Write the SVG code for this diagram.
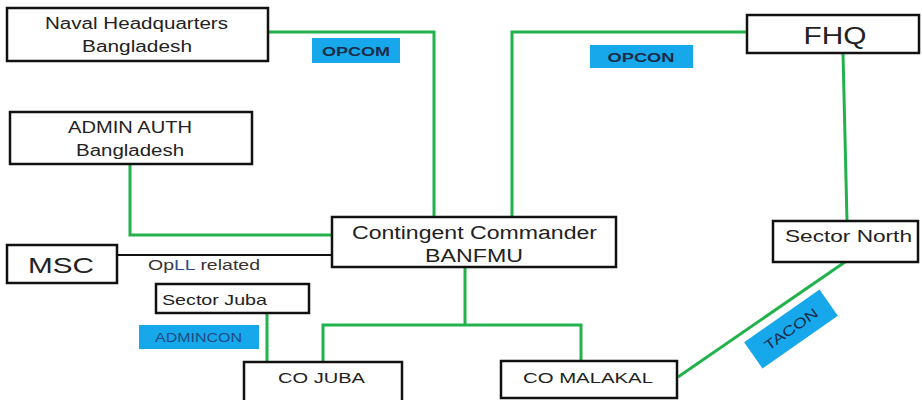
<svg xmlns="http://www.w3.org/2000/svg" width="922" height="400" viewBox="0 0 922 400">
<style>
.box{fill:#fff;stroke:#111;stroke-width:2.5}
.g{fill:none;stroke:#22b24c;stroke-width:3}
.t{font-family:"Liberation Sans",Arial,sans-serif;fill:#222}
.lbl{fill:#16a8ea}
.lt{font-family:"Liberation Sans",Arial,sans-serif;fill:#1b2b4a;font-weight:bold}
</style>
<rect width="922" height="400" fill="#fff"/>
<g id="connectors">
<polyline class="g" points="268,32 434,32 434,217"/>
<polyline class="g" points="130,164 130,235 332,235"/>
<polyline class="g" points="512,217 512,32 747,32"/>
<line class="g" x1="843" y1="53" x2="847" y2="221"/>
<line class="g" x1="465" y1="267" x2="465" y2="325"/>
<polyline class="g" points="323,362 323,325 581,325 581,361"/>
<line class="g" x1="267" y1="313" x2="267" y2="362" stroke-width="2.5"/>
<line class="g" x1="678" y1="377" x2="845" y2="262"/>
<line x1="117" y1="255" x2="332" y2="255" stroke="#111" stroke-width="2"/>
</g>
<g id="opcom">
<rect class="lbl" x="312" y="38" width="88" height="25"/>
<text class="lt" x="356" y="56" font-size="12" text-anchor="middle" textLength="68" lengthAdjust="spacingAndGlyphs">OPCOM</text>
</g>
<g id="opcon">
<rect class="lbl" x="590" y="45" width="103" height="23"/>
<text class="lt" x="641" y="62" font-size="12" text-anchor="middle" textLength="67" lengthAdjust="spacingAndGlyphs">OPCON</text>
</g>
<g id="admincon">
<rect class="lbl" x="139" y="325" width="120" height="24"/>
<text class="t" x="198.5" y="342" font-size="12" text-anchor="middle" style="fill:#1f4a86" textLength="87" lengthAdjust="spacingAndGlyphs">ADMINCON</text>
</g>
<g id="tacon" transform="translate(791,329) rotate(-35)">
<rect class="lbl" x="-46" y="-16" width="92" height="32"/>
<text class="t" x="0" y="5" font-size="14" text-anchor="middle" style="fill:#1b2b4a" textLength="62" lengthAdjust="spacingAndGlyphs">TACON</text>
</g>
<g id="naval">
<rect class="box" x="7" y="8" width="261" height="53"/>
<text class="t" x="136.5" y="29" font-size="16" text-anchor="middle" textLength="183" lengthAdjust="spacingAndGlyphs">Naval Headquarters</text>
<text class="t" x="137" y="52" font-size="16" text-anchor="middle" textLength="110" lengthAdjust="spacingAndGlyphs">Bangladesh</text>
</g>
<g id="admin">
<rect class="box" x="10" y="112" width="242" height="52"/>
<text class="t" x="130" y="133" font-size="16" text-anchor="middle" textLength="124" lengthAdjust="spacingAndGlyphs">ADMIN AUTH</text>
<text class="t" x="130" y="156" font-size="16" text-anchor="middle" textLength="108" lengthAdjust="spacingAndGlyphs">Bangladesh</text>
</g>
<g id="msc">
<rect class="box" x="7" y="245" width="110" height="38"/>
<text class="t" x="61" y="273" font-size="22" text-anchor="middle" textLength="66" lengthAdjust="spacingAndGlyphs">MSC</text>
</g>
<g id="opll">
<text class="t" x="148" y="270" font-size="15" textLength="112" lengthAdjust="spacingAndGlyphs"><tspan style="fill:#3a3232">Op</tspan><tspan style="fill:#2a4c8c">LL</tspan><tspan style="fill:#3a3232"> related</tspan></text>
</g>
<g id="contingent">
<rect class="box" x="332" y="217" width="284" height="50"/>
<text class="t" x="474.5" y="239" font-size="18" text-anchor="middle" textLength="245" lengthAdjust="spacingAndGlyphs">Contingent Commander</text>
<text class="t" x="474" y="262" font-size="18" text-anchor="middle" textLength="98" lengthAdjust="spacingAndGlyphs">BANFMU</text>
</g>
<g id="fhq">
<rect class="box" x="747" y="15" width="172" height="38"/>
<text class="t" x="835" y="44" font-size="24" text-anchor="middle" textLength="63" lengthAdjust="spacingAndGlyphs">FHQ</text>
</g>
<g id="sectornorth">
<rect class="box" x="773" y="221" width="145" height="41"/>
<text class="t" x="785" y="242" font-size="17" textLength="127" lengthAdjust="spacingAndGlyphs">Sector North</text>
</g>
<g id="sectorjuba">
<rect class="box" x="156" y="284" width="153" height="29"/>
<text class="t" x="162" y="305" font-size="15" textLength="105" lengthAdjust="spacingAndGlyphs">Sector Juba</text>
</g>
<g id="cojuba">
<rect class="box" x="244" y="362" width="158" height="42"/>
<text class="t" x="278" y="383" font-size="15" textLength="87" lengthAdjust="spacingAndGlyphs">CO JUBA</text>
</g>
<g id="comalakal">
<rect class="box" x="501" y="361" width="176" height="37"/>
<text class="t" x="523" y="383" font-size="15" textLength="130" lengthAdjust="spacingAndGlyphs">CO MALAKAL</text>
</g>
</svg>
